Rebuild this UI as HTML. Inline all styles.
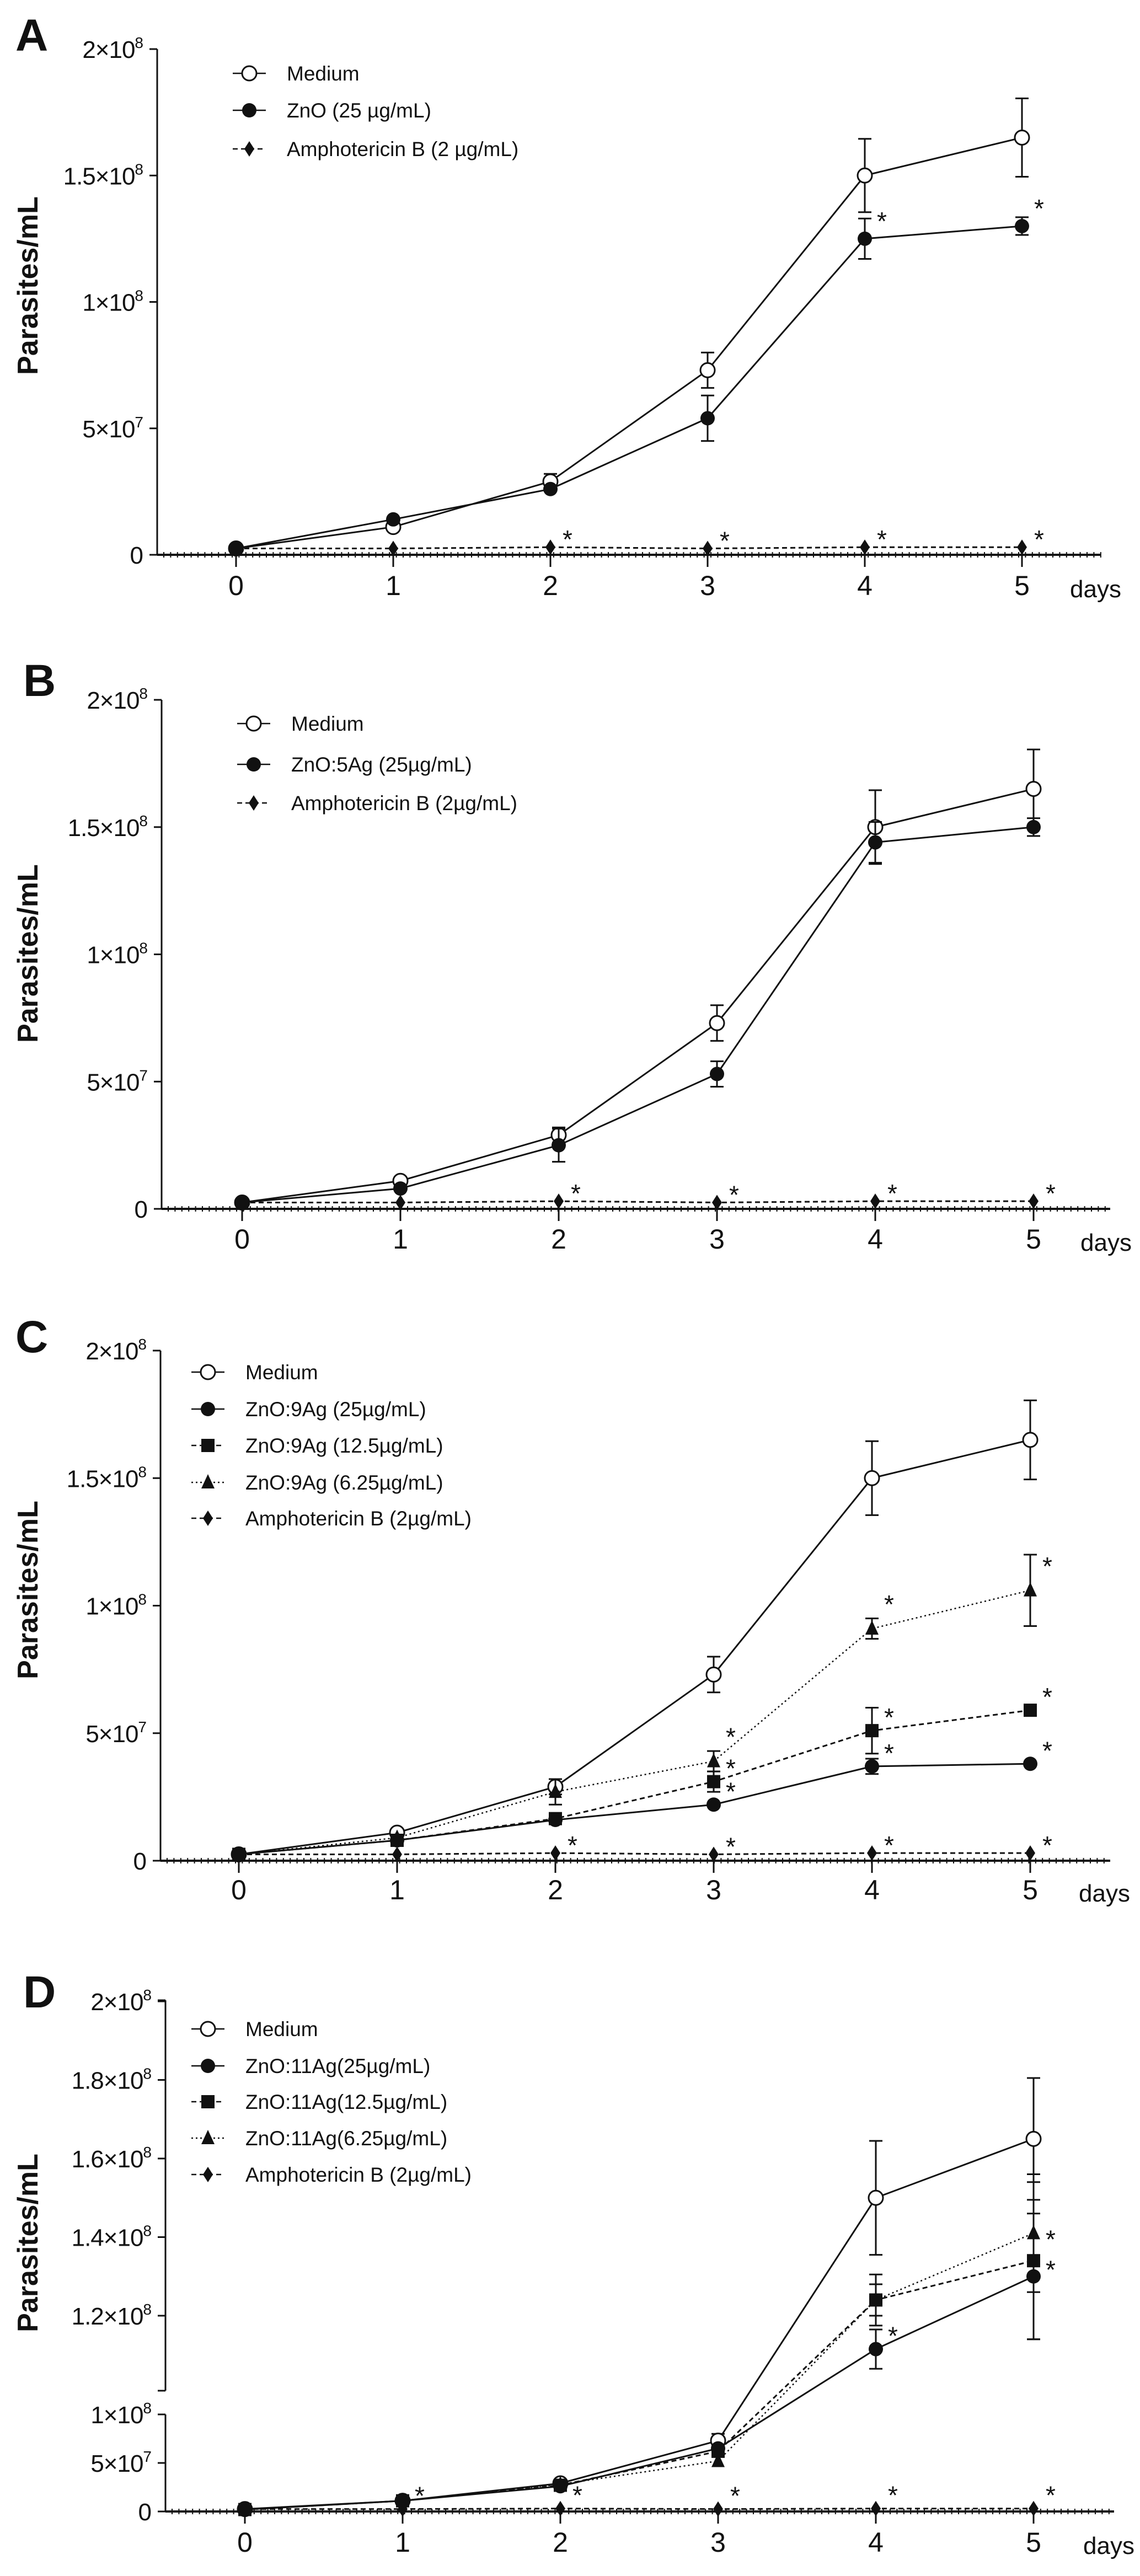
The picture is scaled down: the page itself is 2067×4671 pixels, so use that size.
<!DOCTYPE html>
<html><head><meta charset="utf-8">
<style>
html,body{margin:0;padding:0;background:#fff;}
svg{display:block;}
text{font-family:"Liberation Sans",Arial,sans-serif;fill:#111;}
</style></head>
<body>
<svg id="fig" width="2067" height="4671" viewBox="0 0 2067 4671" xmlns="http://www.w3.org/2000/svg"></svg>
<script>
// ---- data ----
const days = [0,1,2,3,4,5];
const dayLabels = ['0','1','2','3','4','5'];
const medium = [2.5e6,1.1e7,2.9e7,7.3e7,1.5e8,1.65e8];
const mediumErr = [0,0,3e6,7e6,1.45e7,1.55e7];
const amphoB = [2.5e6,2.5e6,3e6,2.5e6,3e6,3e6];
const aZnO = [2.5e6,1.4e7,2.6e7,5.4e7,1.25e8,1.3e8];
const aZnOErr = [0,0,0,9e6,8e6,3.5e6];
const bZnO5 = [2.5e6,8e6,2.5e7,5.3e7,1.44e8,1.5e8];
const bZnO5Err = [0,0,6.5e6,5e6,8e6,3.5e6];
const c25 = [2.5e6,8e6,1.6e7,2.2e7,3.7e7,3.8e7];
const c25Err = [0,0,0,0,3e6,0];
const c125 = [2.5e6,8e6,1.65e7,3.1e7,5.1e7,5.9e7];
const c125Err = [0,0,0,4e6,9e6,0];
const c625 = [2.5e6,9e6,2.7e7,3.9e7,9.1e7,1.06e8];
const c625Err = [0,0,5e6,4e6,4e6,1.4e7];
const d25 = [2e6,1.1e7,2.6e7,6.5e7,1.115e8,1.3e8];
const d25Err = [0,0,0,0,5e6,1.6e7];
const d125 = [2e6,1.1e7,2.7e7,6.2e7,1.24e8,1.34e8];
const d125Err = [0,0,0,0,6.5e6,2e7];
const d625 = [2e6,1.1e7,2.8e7,5.2e7,1.24e8,1.41e8];
const d625Err = [0,0,0,0,4e6,1.5e7];
const ticksStd = [0,5e7,1e8,1.5e8,2e8];
const ticksStdLab = [['0',''],['5×10','7'],['1×10','8'],['1.5×10','8'],['2×10','8']];
const ticksDLow = [0,5e7,1e8];
const ticksDLowLab = [['0',''],['5×10','7'],['1×10','8']];
const ticksDHigh = [1.2e8,1.4e8,1.6e8,1.8e8,2e8];
const ticksDHighLab = [['1.2×10','8'],['1.4×10','8'],['1.6×10','8'],['1.8×10','8'],['2×10','8']];

const NS='http://www.w3.org/2000/svg';
const svg=document.getElementById('fig');
function mk(tag,attrs,parent){const e=document.createElementNS(NS,tag);for(const k in attrs)e.setAttribute(k,attrs[k]);(parent||svg).appendChild(e);return e;}

function drawMarker(g,shape,x,y){
  let m;
  if(shape==='open') m=mk('circle',{cx:x,cy:y,r:13,fill:'#fff',stroke:'#111','stroke-width':3},g);
  else if(shape==='circle') m=mk('circle',{cx:x,cy:y,r:13,fill:'#111'},g);
  else if(shape==='square') m=mk('rect',{x:x-12,y:y-12,width:24,height:24,fill:'#111'},g);
  else if(shape==='tri') m=mk('polygon',{points:`${x},${y-15} ${x-12},${y+11} ${x+12},${y+11}`,fill:'#111'},g);
  else m=mk('polygon',{points:`${x},${y-14} ${x+9},${y} ${x},${y+14} ${x-9},${y}`,fill:'#111'},g);
  
  
}

function dashOf(style){return style==='dash'?'9,6':style==='dot'?'3,5':'none';}

function panel(P){
  const g=mk('g',{});
  
  
  const X=d=>P.x0+d*P.dx;
  const Y=P.Y;
  // letter
  const L=mk('text',{x:P.lx,y:P.ly,'font-size':82,'font-weight':'bold'},g);L.textContent=P.letter;
  
  // y title
  const T=mk('text',{x:0,y:0,'font-size':52,'font-weight':'bold','text-anchor':'middle',transform:`translate(${P.tx},${P.ty}) rotate(-90)`},g);
  T.textContent='Parasites/mL';
  // y axis segments
  P.segs.forEach(s=>{const l=mk('line',{x1:P.ax,y1:s[0],x2:P.ax,y2:s[1],stroke:'#111','stroke-width':3},g);
    
    [s[0],s[1]].forEach(yy=>mk('line',{x1:P.ax-14,y1:yy,x2:P.ax,y2:yy,stroke:'#111','stroke-width':3},g));});
  P.ticks.forEach((tk,i)=>{
    const yy=Y(tk[0]);
    mk('line',{x1:P.ax-14,y1:yy,x2:P.ax,y2:yy,stroke:'#111','stroke-width':3},g);
    const t=mk('text',{x:P.ax-26,y:yy+16,'font-size':44,'text-anchor':'end','letter-spacing':-1},g);
    
    const lab=tk[1];
    const a=mk('tspan',{},t);a.textContent=lab[0];
    if(lab[1]){const b=mk('tspan',{dy:-18,'font-size':28},t);b.textContent=lab[1];}
  });
  // x axis
  const y0=Y(0);
  const xa=mk('line',{x1:P.ax,y1:y0,x2:P.xend,y2:y0,stroke:'#111','stroke-width':4},g);
  
  for(let x=P.ax+12;x<P.xend;x+=12.4) mk('line',{x1:x,y1:y0-5,x2:x,y2:y0+5,stroke:'#111','stroke-width':2},g);
  days.forEach((d,i)=>{
    mk('line',{x1:X(d),y1:y0,x2:X(d),y2:y0+22,stroke:'#111','stroke-width':3},g);
    const t=mk('text',{x:X(d),y:P.labY+18,'font-size':50,'text-anchor':'middle'},g);t.textContent=dayLabels[i];
    
  });
  const dt=mk('text',{x:P.daysX,y:P.labY+22,'font-size':44},g);dt.textContent='days';
  
  // series
  P.series.forEach(s=>{
    const sg=mk('g',{},g);
    
    const pts=s.vals.map((v,i)=>X(days[i])+','+Y(v)).join(' ');
    mk('polyline',{points:pts,fill:'none',stroke:'#111','stroke-width':s.style==='dot'?2.5:3,'stroke-dasharray':dashOf(s.style)},sg);
    s.vals.forEach((v,i)=>{
      const e=s.err?s.err[i]:0;
      if(e>0){const x=X(days[i]);const y1=Y(v+e),y2=Y(v-e);
        const eb=mk('path',{d:`M${x},${y1}V${y2}M${x-12},${y1}H${x+12}M${x-12},${y2}H${x+12}`,stroke:'#111','stroke-width':3,fill:'none'},sg);
        }
    });
    s.vals.forEach((v,i)=>drawMarker(sg,s.shape,X(days[i]),Y(v)));
    (s.stars||[]).forEach(i=>{
      const st=mk('text',{x:X(days[i])+22,y:Y(s.vals[i])-8+(s.starDy||0),'font-size':46},sg);st.textContent='*';
      
    });
  });
  // legend
  P.series.forEach((s,i)=>{
    const lg=mk('g',{},g);
    
    const yy=P.legY[i];
    mk('line',{x1:P.legX-30,y1:yy,x2:P.legX+30,y2:yy,stroke:'#111','stroke-width':2.5,'stroke-dasharray':dashOf(s.style)},lg);
    drawMarker(lg,s.shape,P.legX,yy);
    const t=mk('text',{x:P.legX+68,y:yy+13,'font-size':37},lg);
    t.innerHTML=s.label;
  });
}
const mu='<tspan>\u00b5</tspan>';
function stdY(top,zero){return v=>zero-(v/2e8)*(zero-top);}
function ticksFrom(vals,labs){return vals.map((v,i)=>[v,labs[i]]);}

panel({letter:'A',lx:28,ly:92,tx:68,ty:518,ax:285,xend:1996,x0:428,dx:285,Y:stdY(89,1006),
  segs:[[89,1006]],ticks:ticksFrom(ticksStd,ticksStdLab),labY:1061,daysX:1940,legX:452,legY:[133,200,270],
  series:[
   {key:'medium',label:'Medium',vals:medium,err:mediumErr,shape:'open',style:'solid'},
   {key:'zno',label:'ZnO (25 \u00b5g/mL)',vals:aZnO,err:aZnOErr,shape:'circle',style:'solid',stars:[4,5],starDy:-8},
   {key:'amphotericin',label:'Amphotericin B (2 \u00b5g/mL)',vals:amphoB,shape:'diamond',style:'dash',stars:[2,3,4,5],starDy:10}]});

panel({letter:'B',lx:42,ly:1262,tx:68,ty:1729,ax:293,xend:2013,x0:439,dx:287,Y:stdY(1269,2192),
  segs:[[1269,2192]],ticks:ticksFrom(ticksStd,ticksStdLab),labY:2246,daysX:1959,legX:460,legY:[1312,1386,1456],
  series:[
   {key:'medium',label:'Medium',vals:medium,err:mediumErr,shape:'open',style:'solid'},
   {key:'zno-5ag',label:'ZnO:5Ag (25\u00b5g/mL)',vals:bZnO5,err:bZnO5Err,shape:'circle',style:'solid'},
   {key:'amphotericin',label:'Amphotericin B (2\u00b5g/mL)',vals:amphoB,shape:'diamond',style:'dash',stars:[2,3,4,5],starDy:10}]});

panel({letter:'C',lx:28,ly:2452,tx:68,ty:2883,ax:291,xend:2013,x0:433,dx:287,Y:stdY(2449,3374),
  segs:[[2449,3374]],ticks:ticksFrom(ticksStd,ticksStdLab),labY:3426,daysX:1956,legX:377,legY:[2488,2555,2621,2688,2753],
  series:[
   {key:'medium',label:'Medium',vals:medium,err:mediumErr,shape:'open',style:'solid'},
   {key:'zno-9ag-25',label:'ZnO:9Ag (25\u00b5g/mL)',vals:c25,err:c25Err,shape:'circle',style:'solid',stars:[3,4,5]},
   {key:'zno-9ag-12',label:'ZnO:9Ag (12.5\u00b5g/mL)',vals:c125,err:c125Err,shape:'square',style:'dash',stars:[3,4,5]},
   {key:'zno-9ag-6',label:'ZnO:9Ag (6.25\u00b5g/mL)',vals:c625,err:c625Err,shape:'tri',style:'dot',stars:[3,4,5],starDy:-20},
   {key:'amphotericin',label:'Amphotericin B (2\u00b5g/mL)',vals:amphoB,shape:'diamond',style:'dash',stars:[2,3,4,5],starDy:10}]});

function dY(v){return v<=1.05e8?4554-(v/1e8)*176:4199-(v-1.2e8)/2e7*142.5;}
panel({letter:'D',lx:42,ly:3640,tx:68,ty:4067,ax:300,xend:2020,x0:444,dx:286,Y:dY,
  segs:[[3627,4335],[4378,4554]],ticks:ticksFrom(ticksDLow,ticksDLowLab).concat(ticksFrom(ticksDHigh,ticksDHighLab)),
  labY:4609,daysX:1964,legX:377,legY:[3679,3746,3811,3877,3943],
  series:[
   {key:'medium',label:'Medium',vals:medium,err:mediumErr,shape:'open',style:'solid'},
   {key:'zno-11ag-25',label:'ZnO:11Ag(25\u00b5g/mL)',vals:d25,err:d25Err,shape:'circle',style:'solid',stars:[4]},
   {key:'zno-11ag-12',label:'ZnO:11Ag(12.5\u00b5g/mL)',vals:d125,err:d125Err,shape:'square',style:'dash',stars:[5],starDy:40},
   {key:'zno-11ag-6',label:'ZnO:11Ag(6.25\u00b5g/mL)',vals:d625,err:d625Err,shape:'tri',style:'dot',stars:[5],starDy:35},
   {key:'amphotericin',label:'Amphotericin B (2\u00b5g/mL)',vals:amphoB,shape:'diamond',style:'dash',stars:[1,2,3,4,5],starDy:0}]});
</script>
</body></html>
